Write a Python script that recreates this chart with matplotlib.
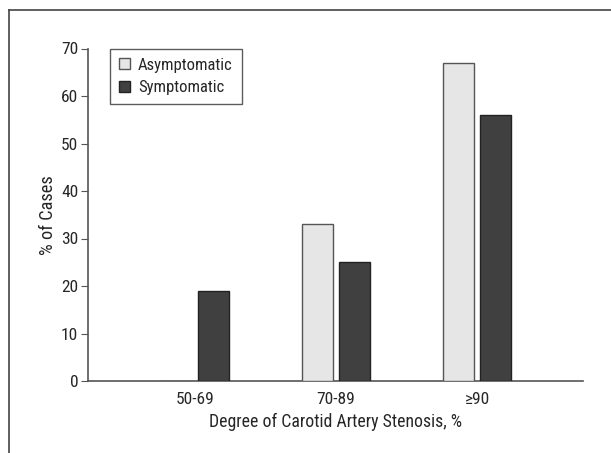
import matplotlib
matplotlib.use("Agg")
import matplotlib.pyplot as plt
from matplotlib.lines import Line2D
import numpy as np

categories = ["50-69", "70-89", "\u226590"]
asymptomatic = [0, 33, 67]
symptomatic = [19, 25, 56]
series_names = ["Asymptomatic", "Symptomatic"]
yticks = [0, 10, 20, 30, 40, 50, 60, 70]

plt.rcParams["font.family"] = ["Roboto Condensed", "Archivo Narrow", "Liberation Sans", "DejaVu Sans"]
TXT = "#262626"

fig = plt.figure(figsize=(6.11, 4.53), dpi=100)
ax = fig.add_axes([88/611, 1-381/453, (583-88)/611, (381-48.5)/453])

x = np.arange(len(categories))
off = 0.131
w = 0.22
ax.bar(x - off, asymptomatic, w, color="#e6e6e6", edgecolor="#555555", linewidth=1.0,
       label=series_names[0], zorder=3)
ax.bar(x + off, symptomatic, w, color="#404040", edgecolor="#222222", linewidth=1.0,
       label=series_names[1], zorder=3)

ax.set_xlim(-0.759, 2.752)
ax.set_ylim(0, 70)
ax.set_yticks(yticks)
ax.set_xticks(x)
ax.set_xticklabels(categories)
for s in ["top", "right"]:
    ax.spines[s].set_visible(False)
for s in ["left", "bottom"]:
    ax.spines[s].set_color("#555555")
    ax.spines[s].set_linewidth(1.2)
ax.tick_params(axis="y", direction="out", length=5, color="#555555", labelsize=12.5, labelcolor=TXT, pad=2)
ax.tick_params(axis="x", length=0, labelsize=12.5, labelcolor=TXT, pad=8)
ax.set_xlabel("Degree of Carotid Artery Stenosis, %", fontsize=12.8, color=TXT, labelpad=4)
ax.set_ylabel("% of Cases", fontsize=13.2, color=TXT, labelpad=3)

leg = ax.legend(loc="upper left", bbox_to_anchor=(0.044, 1.0), borderaxespad=0, fontsize=12, frameon=True,
                fancybox=False, edgecolor="#333333", handlelength=0.65, handleheight=0.65,
                handletextpad=0.5, borderpad=0.55, labelspacing=0.45)
leg.get_frame().set_linewidth(1.0)
for t in leg.get_texts():
    t.set_color(TXT)

fig.add_artist(Line2D([9/611, 1.0], [1-10/453, 1-10/453], color="#444444", linewidth=1.2, transform=fig.transFigure))
fig.add_artist(Line2D([9/611, 9/611], [0, 1-10/453], color="#444444", linewidth=1.2, transform=fig.transFigure))

fig.savefig("out.png", dpi=100)
